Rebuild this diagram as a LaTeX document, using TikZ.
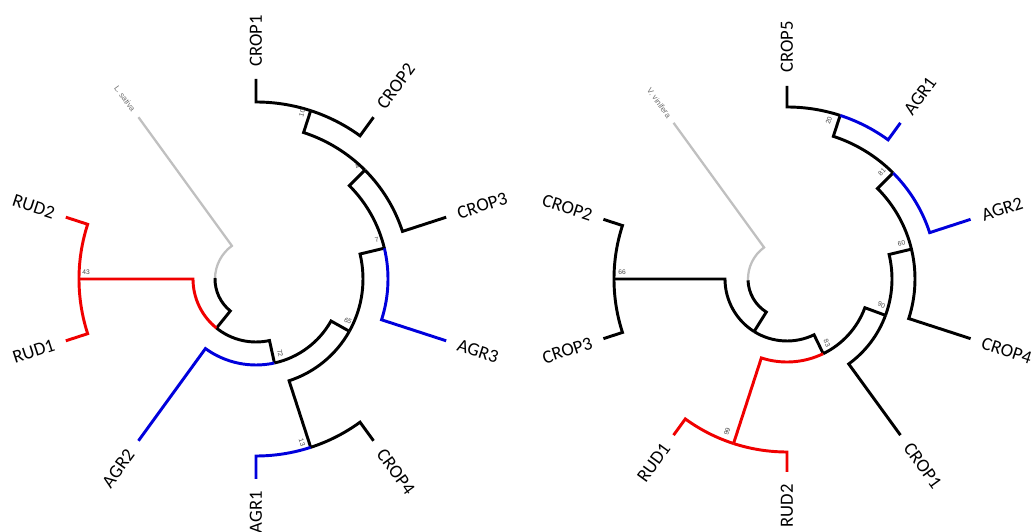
\documentclass[tikz,border=0pt]{standalone}
\usepackage{fontspec}
\setmainfont{Carlito}
\newfontfamily\smallsans{Liberation Sans}
\definecolor{tred}{RGB}{240,0,0}
\definecolor{tblue}{RGB}{0,0,220}
\definecolor{tgrey}{RGB}{192,192,192}
\definecolor{bsgrey}{RGB}{70,70,70}
\definecolor{oggrey}{RGB}{110,110,110}

\tikzset{
  br/.style={line width=2.2pt, line join=miter},
  blk/.style={br, black},
  rd/.style={br, tred},
  bl/.style={br, tblue},
  gr/.style={br, tgrey, line width=1.7pt},
  leaf/.style={inner sep=0pt, font=\fontsize{14}{16}\selectfont},
  boot/.style={inner sep=0pt, font=\smallsans\fontsize{5}{6}\selectfont, text=bsgrey},
  outg/.style={inner sep=0pt, font=\smallsans\fontsize{6}{7}\selectfont, text=oggrey},
}

% one half of a clade: child branch from (angle:child radius) in to the
% node radius, then along the node arc to the node's own angle
\newcommand\half[5]{\draw[#1] (#2:#3) -- (#2:#4) arc[start angle=#2, end angle=#5, radius=#4];}

\begin{document}
\begin{tikzpicture}[x=0.75pt,y=0.75pt]
\fill[white] (0,0) rectangle (1033,532);
\useasboundingbox (0,0) rectangle (1033,532);

% ---------------- left tree (rooted on L. sativa) ----------------
\begin{scope}[shift={(256,253)}]
  % root
  \half{gr}{126}{200}{41}{178.6}
  \half{blk}{231.19}{63}{41}{178.6}
  % RUD clade + rest
  \half{rd}{180}{177}{63}{231.19}
  \half{blk}{282.375}{86}{63}{231.19}
  % node 43
  \half{rd}{162}{200}{177}{180}
  \half{rd}{198}{200}{177}{180}
  % node 72
  \half{bl}{234}{200}{86}{282.375}
  \half{blk}{330.75}{107}{86}{282.375}
  % node 65
  \half{blk}{288}{177}{107}{330.75}
  \half{blk}{373.5}{132}{107}{330.75}
  % node 13
  \half{bl}{270}{200}{177}{288}
  \half{blk}{306}{200}{177}{288}
  % node 7
  \half{bl}{342}{200}{132}{373.5}
  \half{blk}{405}{154}{132}{373.5}
  % node 4
  \half{blk}{378}{200}{154}{405}
  \half{blk}{432}{177}{154}{405}
  % node 10
  \half{blk}{414}{200}{177}{432}
  \half{blk}{450}{200}{177}{432}

  % support values
  \node[boot, rotate=72]  (Lb10) at (74.5:172) {10};
  \node[boot, rotate=45]  (Lb4)  at (48:151) {4};
  \node[boot, rotate=14]  (Lb7)  at (17.9:127) {7};
  \node[boot, rotate=-29] (Lb65) at (-24.5:101) {65};
  \node[boot, rotate=-77] (Lb72) at (-72:78) {72};
  \node[boot, rotate=-72] (Lb13) at (-74.3:170) {13};
  \node[boot]             (Lb43) at (177.6:170) {43};

  % tip labels
  \node[outg, rotate=-54, anchor=east] (Lsat) at (126:208) {L. sativa};
  \node[leaf, rotate=90,  anchor=west] (Lcrop1) at (90:212)  {CROP1};
  \node[leaf, rotate=54,  anchor=west] (Lcrop2) at (54:212)  {CROP2};
  \node[leaf, rotate=18,  anchor=west] (Lcrop3) at (18:212)  {CROP3};
  \node[leaf, rotate=-18, anchor=west] (Lagr3)  at (-18:212) {AGR3};
  \node[leaf, rotate=-54, anchor=west] (Lcrop4) at (-54:212) {CROP4};
  \node[leaf, rotate=90,  anchor=east] (Lagr1)  at (-90:212) {AGR1};
  \node[leaf, rotate=54,  anchor=east] (Lagr2)  at (-126:213) {AGR2};
  \node[leaf, rotate=18,  anchor=east] (Lrud1)  at (-162:212) {RUD1};
  \node[leaf, rotate=-18, anchor=east] (Lrud2)  at (162:212) {RUD2};
\end{scope}

% ---------------- right tree (rooted on V. vinifera) ----------------
\begin{scope}[shift={(787,253)}]
  % root
  \half{gr}{126}{193}{39}{181.97}
  \half{blk}{237.94}{62}{39}{181.97}
  % first split
  \half{blk}{180}{173}{62}{237.94}
  \half{blk}{295.875}{83}{62}{237.94}
  % node 66
  \half{blk}{162}{193}{173}{180}
  \half{blk}{198}{193}{173}{180}
  % node 83
  \half{rd}{252}{173}{83}{295.875}
  \half{blk}{339.75}{105}{83}{295.875}
  % node 99
  \half{rd}{234}{193}{173}{252}
  \half{rd}{270}{193}{173}{252}
  % node 90
  \half{blk}{306}{193}{105}{339.75}
  \half{blk}{373.5}{128}{105}{339.75}
  % node 60
  \half{blk}{342}{193}{128}{373.5}
  \half{blk}{405}{150}{128}{373.5}
  % node 81
  \half{bl}{378}{193}{150}{405}
  \half{blk}{432}{172}{150}{405}
  % node 20
  \half{bl}{414}{193}{172}{432}
  \half{blk}{450}{193}{172}{432}

  % support values
  \node[boot, rotate=72]  (Rb20) at (75.2:164) {20};
  \node[boot, rotate=45]  (Rb81) at (48.4:143) {81};
  \node[boot, rotate=14]  (Rb60) at (17.5:120) {60};
  \node[boot, rotate=-20] (Rb90) at (-15.3:98) {90};
  \node[boot, rotate=-64] (Rb83) at (-58:75.5) {83};
  \node[boot, rotate=72]  (Rb99) at (248.6:164) {99};
  \node[boot]             (Rb66) at (177.6:165) {66};

  % tip labels
  \node[outg, rotate=-54, anchor=east] (Vvin) at (126:200) {V. vinifera};
  \node[leaf, rotate=90,  anchor=west] (Rcrop5) at (90:206)  {CROP5};
  \node[leaf, rotate=54,  anchor=west] (Ragr1)  at (54:205)  {AGR1};
  \node[leaf, rotate=18,  anchor=west] (Ragr2)  at (18:205)  {AGR2};
  \node[leaf, rotate=-18, anchor=west] (Rcrop4) at (-18:205) {CROP4};
  \node[leaf, rotate=-54, anchor=west] (Rcrop1) at (-54:205) {CROP1};
  \node[leaf, rotate=90,  anchor=east] (Rrud2)  at (-90:205) {RUD2};
  \node[leaf, rotate=54,  anchor=east] (Rrud1)  at (-126:205) {RUD1};
  \node[leaf, rotate=18,  anchor=east] (Rcrop3) at (-162:205) {CROP3};
  \node[leaf, rotate=-18, anchor=east] (Rcrop2) at (162:205) {CROP2};
\end{scope}
\end{tikzpicture}
\end{document}
